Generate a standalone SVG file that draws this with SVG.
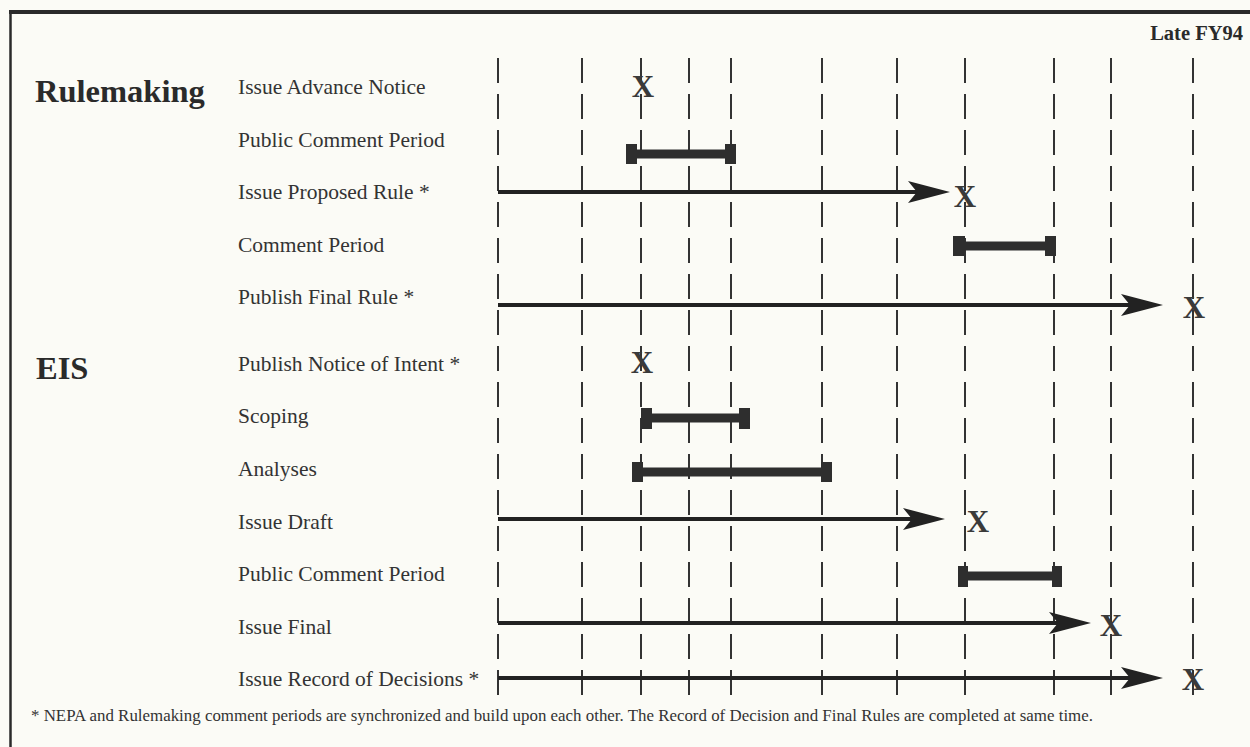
<svg xmlns="http://www.w3.org/2000/svg" width="1250" height="747" viewBox="0 0 1250 747">
<defs>
<style>
.lbl{font-family:"Liberation Serif","Times New Roman",serif;font-size:21.5px;fill:#333}
.hd{font-family:"Liberation Serif","Times New Roman",serif;font-size:32.5px;font-weight:bold;fill:#2a2a2a}
.mk{font-family:"Liberation Serif","Times New Roman",serif;font-size:31px;font-weight:bold;fill:#3a3a3a;text-anchor:middle}
.foot{font-family:"Liberation Serif","Times New Roman",serif;font-size:16.9px;fill:#333}
.grid line{stroke:#333;stroke-width:2;stroke-dasharray:25 11}
.arr{stroke:#222;stroke-width:4;fill:none;marker-end:url(#ah)}
.bar{fill:#2e2e2e}
</style>
<marker id="ah" viewBox="0 0 42 22" markerWidth="42" markerHeight="22" refX="12" refY="11" orient="auto" markerUnits="userSpaceOnUse">
<path d="M0,0 L42,11 L0,22 L9,11 Z" fill="#222"/>
</marker>
</defs>
<rect x="0" y="0" width="1250" height="747" fill="#fbfbf6"/>
<g id="frame" stroke="#2a2a2a" fill="none">
<line x1="9" y1="12" x2="1250" y2="12" stroke-width="4"/>
<line x1="10.5" y1="11" x2="10.5" y2="747" stroke-width="2.5"/>
</g>
<text id="late" x="1243" y="40" font-family="Liberation Serif, serif" font-size="20.5" font-weight="bold" fill="#2a2a2a" text-anchor="end">Late FY94</text>
<g class="grid" id="grid">
<line x1="498" y1="58" x2="498" y2="696"/>
<line x1="582" y1="58" x2="582" y2="696"/>
<line x1="641" y1="58" x2="641" y2="696"/>
<line x1="689" y1="58" x2="689" y2="696"/>
<line x1="731" y1="58" x2="731" y2="696"/>
<line x1="822" y1="58" x2="822" y2="696"/>
<line x1="897" y1="58" x2="897" y2="696"/>
<line x1="965" y1="58" x2="965" y2="696"/>
<line x1="1054" y1="58" x2="1054" y2="696"/>
<line x1="1111" y1="58" x2="1111" y2="696"/>
<line x1="1193" y1="58" x2="1193" y2="696"/>
</g>
<g id="headings">
<text class="hd" x="35" y="102">Rulemaking</text>
<text class="hd" x="36" y="379">EIS</text>
</g>
<g id="rm-advance-notice">
<text class="lbl" x="238" y="94">Issue Advance Notice</text>
<text class="mk" x="643" y="97">X</text>
</g>
<g id="rm-public-comment">
<text class="lbl" x="238" y="146.5">Public Comment Period</text>
<rect class="bar" x="631" y="149.5" width="100" height="9"/>
<rect class="bar" x="626" y="144" width="11" height="20"/>
<rect class="bar" x="725" y="144" width="11" height="20"/>
</g>
<g id="rm-proposed-rule">
<text class="lbl" x="238" y="199">Issue Proposed Rule *</text>
<text class="mk" x="965" y="207">X</text>
</g>
<g id="rm-comment-period">
<text class="lbl" x="238" y="251.5">Comment Period</text>
<rect class="bar" x="958" y="241.5" width="93" height="9"/>
<rect class="bar" x="953" y="236" width="12" height="20"/>
<rect class="bar" x="1045" y="236" width="11" height="20"/>
</g>
<g id="rm-final-rule">
<text class="lbl" x="238" y="304">Publish Final Rule *</text>
<text class="mk" x="1194" y="318">X</text>
</g>
<g id="eis-notice-intent">
<text class="lbl" x="238" y="370.5">Publish Notice of Intent *</text>
<text class="mk" x="642" y="373">X</text>
</g>
<g id="eis-scoping">
<text class="lbl" x="238" y="423">Scoping</text>
<rect class="bar" x="646" y="413.5" width="99" height="9"/>
<rect class="bar" x="641" y="408" width="11" height="21"/>
<rect class="bar" x="739" y="408" width="11" height="21"/>
</g>
<g id="eis-analyses">
<text class="lbl" x="238" y="476">Analyses</text>
<rect class="bar" x="637" y="467.5" width="190" height="9"/>
<rect class="bar" x="632" y="462" width="11" height="20"/>
<rect class="bar" x="821" y="462" width="11" height="20"/>
</g>
<g id="eis-draft">
<text class="lbl" x="238" y="528.5">Issue Draft</text>
<text class="mk" x="978" y="532">X</text>
</g>
<g id="eis-public-comment">
<text class="lbl" x="238" y="581">Public Comment Period</text>
<rect class="bar" x="963" y="571.5" width="94" height="9"/>
<rect class="bar" x="958" y="566" width="10" height="21"/>
<rect class="bar" x="1052" y="566" width="10" height="21"/>
</g>
<g id="eis-final">
<text class="lbl" x="238" y="633.5">Issue Final</text>
<text class="mk" x="1111" y="636">X</text>
</g>
<g id="eis-record">
<text class="lbl" x="238" y="685.5">Issue Record of Decisions *</text>
<text class="mk" x="1193" y="690">X</text>
</g>
<g id="connectors">
<line class="arr" x1="498" y1="192" x2="920" y2="192"/>
<line class="arr" x1="498" y1="305" x2="1133" y2="305"/>
<line class="arr" x1="498" y1="519" x2="915" y2="519"/>
<line class="arr" x1="498" y1="623" x2="1061" y2="623"/>
<line class="arr" x1="498" y1="678" x2="1133" y2="678"/>
</g>
<text id="footnote" class="foot" x="31" y="721">*  NEPA and Rulemaking comment periods are synchronized and build upon each other.  The Record of Decision and Final Rules are completed at same time.</text>
</svg>
